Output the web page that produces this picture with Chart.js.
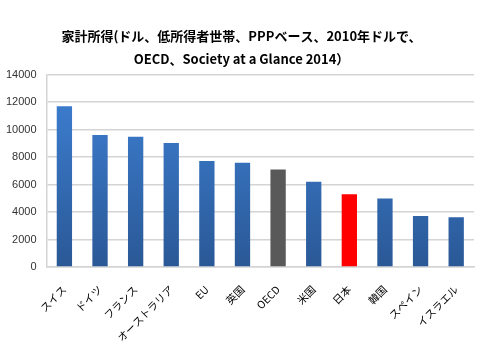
<!DOCTYPE html>
<html>
<head>
<meta charset="utf-8">
<script src="https://cdn.jsdelivr.net/npm/chart.js@4"></script>
<style>
  html, body { margin: 0; padding: 0; background: #fff; }
  #wrap { width: 480px; height: 360px; }
</style>
</head>
<body>
<div id="wrap"><canvas id="incomeChart"></canvas></div>
<script>
const countries = ['スイス', 'ドイツ', 'フランス', 'オーストラリア', 'EU', '英国', 'OECD', '米国', '日本', '韓国', 'スペイン', 'イスラエル'];
const incomes = [11700, 9600, 9480, 9020, 7710, 7590, 7100, 6200, 5300, 4980, 3720, 3620];
const titleLines = ['家計所得(ドル、低所得者世帯、PPPベース、2010年ドルで、', 'OECD、Society at a Glance 2014）'];

const fontFamily = '"Noto Sans CJK JP", "Noto Sans", sans-serif';

function barColor(context) {
    const label = countries[context.dataIndex];
    if (label === 'OECD') return '#595959';
    if (label === '日本') return '#ff0000';
    const area = context.chart.chartArea;
    if (!area) return '#3a75c4';
    const g = context.chart.ctx.createLinearGradient(0, area.top, 0, area.bottom);
    g.addColorStop(0, '#3f82d6');
    g.addColorStop(1, '#2a5896');
    return g;
}

new Chart(document.getElementById('incomeChart'), {
    type: 'bar',
    data: {
        labels: countries,
        datasets: [{
            data: incomes,
            backgroundColor: barColor,
            barPercentage: 0.43,
            categoryPercentage: 1,
        }],
    },
    options: {
        responsive: true,
        maintainAspectRatio: false,
        animation: false,
        layout: {
            padding: { left: -4, right: 6, top: 25, bottom: 8 }
        },
        scales: {
            y: {
                min: 0,
                max: 14000,
                ticks: {
                    stepSize: 2000,
                    color: '#333',
                    font: { family: '"Liberation Sans", sans-serif', size: 11 },
                    padding: 10,
                    callback: value => String(value),
                },
                grid: {
                    color: '#d4d4d4',
                    lineWidth: 1.5,
                    drawTicks: false,
                },
                border: { color: '#d4d4d4', width: 1.5 },
            },
            x: {
                ticks: {
                    minRotation: 45,
                    maxRotation: 45,
                    color: '#000',
                    font: { family: fontFamily, size: 10.5 },
                    padding: 8,
                },
                grid: { display: false },
                border: { color: '#d4d4d4', width: 1.5 },
            }
        },
        plugins: {
            legend: { display: false },
            tooltip: { enabled: false },
            title: {
                display: true,
                // leading ideographic space nudges the centred title right, as in the original
                text: titleLines.map(line => '\u3000' + line),
                color: '#000',
                font: { family: fontFamily, size: 13, weight: 'bold', lineHeight: 1.75 },
                padding: { top: 0, bottom: 4 },
            }
        }
    }
});
</script>
</body>
</html>
